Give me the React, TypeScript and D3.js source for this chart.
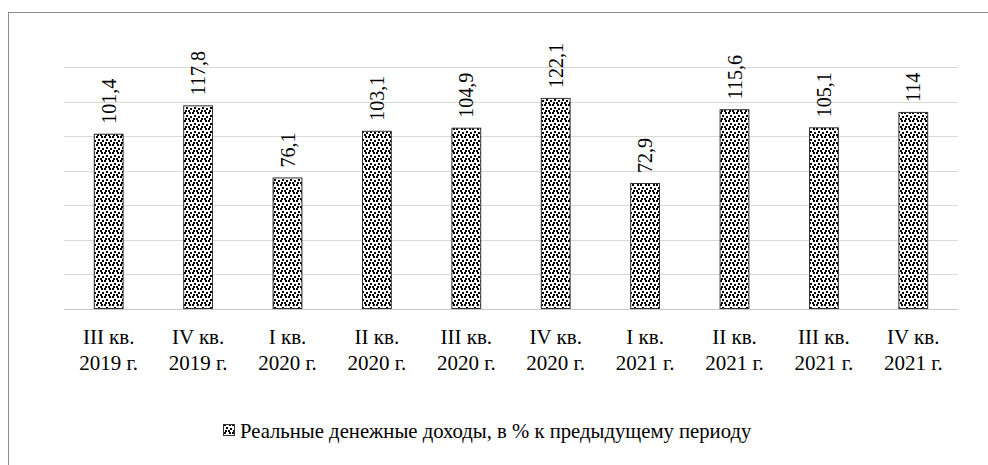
import { useEffect, useRef } from "react";
import * as d3 from "d3";

const quarters = ["III кв.", "IV кв.", "I кв.", "II кв.", "III кв.", "IV кв.", "I кв.", "II кв.", "III кв.", "IV кв."];
const years = ["2019 г.", "2019 г.", "2020 г.", "2020 г.", "2020 г.", "2020 г.", "2021 г.", "2021 г.", "2021 г.", "2021 г."];
const incomeValues = [101.4, 117.8, 76.1, 103.1, 104.9, 122.1, 72.9, 115.6, 105.1, 114];
const gridTicks = [0, 20, 40, 60, 80, 100, 120, 140];
const legendLabel = "Реальные денежные доходы, в % к предыдущему периоду";

const width = 988;
const height = 465;
const plot = { left: 64, right: 958, top: 67, bottom: 309 };
const fontFamily = "'Liberation Serif', 'Times New Roman', serif";

// confetti-like dots, roughly like the Excel pattern fill
const tile = 8;
const dots: [number, number][] = [
  [0, 0], [5, 0], [2, 3], [6, 4], [1, 6], [4, 6],
];

const App = () => {
  const svgRef = useRef<SVGSVGElement | null>(null);

  useEffect(() => {
    if (!svgRef.current) return;
    const svg = d3.select(svgRef.current);
    svg.selectAll("*").remove();

    const defs = svg.append("defs");
    const pattern = defs
      .append("pattern")
      .attr("id", "confetti")
      .attr("patternUnits", "userSpaceOnUse")
      .attr("width", tile)
      .attr("height", tile);
    pattern.append("rect").attr("width", tile).attr("height", tile).attr("fill", "#fff");
    pattern
      .selectAll("rect.dot")
      .data(dots)
      .join("rect")
      .attr("class", "dot")
      .attr("x", (d) => d[0])
      .attr("y", (d) => d[1])
      .attr("width", 2)
      .attr("height", 2)
      .attr("fill", "#000");

    svg.append("rect").attr("width", width).attr("height", height).attr("fill", "#fff");

    // outer frame (cut by the window on right and bottom)
    svg
      .append("rect")
      .attr("x", 8.5)
      .attr("y", 12.5)
      .attr("width", 1000)
      .attr("height", 500)
      .attr("fill", "none")
      .attr("stroke", "#8c8c8c")
      .attr("stroke-width", 1);

    const x = d3
      .scaleBand<number>()
      .domain(d3.range(incomeValues.length))
      .range([plot.left, plot.right])
      .paddingInner(2 / 3)
      .paddingOuter(1 / 3);

    const y = d3.scaleLinear().domain([0, 140]).range([plot.bottom, plot.top]);

    svg
      .append("g")
      .selectAll("line")
      .data(gridTicks)
      .join("line")
      .attr("x1", plot.left)
      .attr("x2", plot.right)
      .attr("y1", (d) => Math.round(y(d)) + 0.5)
      .attr("y2", (d) => Math.round(y(d)) + 0.5)
      .attr("stroke", (d) => (d === 0 ? "#c8c8c8" : "#d9d9d9"))
      .attr("stroke-width", 1);

    svg
      .append("g")
      .selectAll("rect")
      .data(incomeValues)
      .join("rect")
      .attr("x", (_, i) => x(i)! + 0.5)
      .attr("y", (d) => y(d) + 0.5)
      .attr("width", x.bandwidth() - 1)
      .attr("height", (d) => y(0) - y(d) - 1)
      .attr("fill", "url(#confetti)")
      .attr("stroke", "#333")
      .attr("stroke-width", 1);

    svg
      .append("g")
      .selectAll("text")
      .data(incomeValues)
      .join("text")
      .attr("transform", (d, i) => `translate(${x(i)! + x.bandwidth() / 2},${y(d) - 10}) rotate(-90)`)
      .attr("dy", "0.35em")
      .attr("font-family", fontFamily)
      .attr("font-size", 20)
      .attr("fill", "#000")
      .text((d) => String(d).replace(".", ","));

    const labels = svg
      .append("g")
      .attr("font-family", fontFamily)
      .attr("font-size", 21)
      .attr("fill", "#000")
      .attr("text-anchor", "middle");

    labels
      .selectAll("text.q")
      .data(quarters)
      .join("text")
      .attr("class", "q")
      .attr("x", (_, i) => x(i)! + x.bandwidth() / 2)
      .attr("y", 344)
      .text((d) => d);

    labels
      .selectAll("text.yr")
      .data(years)
      .join("text")
      .attr("class", "yr")
      .attr("x", (_, i) => x(i)! + x.bandwidth() / 2)
      .attr("y", 370)
      .text((d) => d);

    const legend = svg.append("g");
    legend
      .append("rect")
      .attr("x", 223.5)
      .attr("y", 424.5)
      .attr("width", 11)
      .attr("height", 11)
      .attr("fill", "url(#confetti)")
      .attr("stroke", "#333");
    legend
      .append("text")
      .attr("x", 240)
      .attr("y", 438)
      .attr("font-family", fontFamily)
      .attr("font-size", 20.7)
      .attr("fill", "#000")
      .text(legendLabel);
  }, []);

  return (
    <svg
      ref={svgRef}
      width={width}
      height={height}
      style={{ position: "absolute", left: 0, top: 0, display: "block" }}
    />
  );
};

export default App;
